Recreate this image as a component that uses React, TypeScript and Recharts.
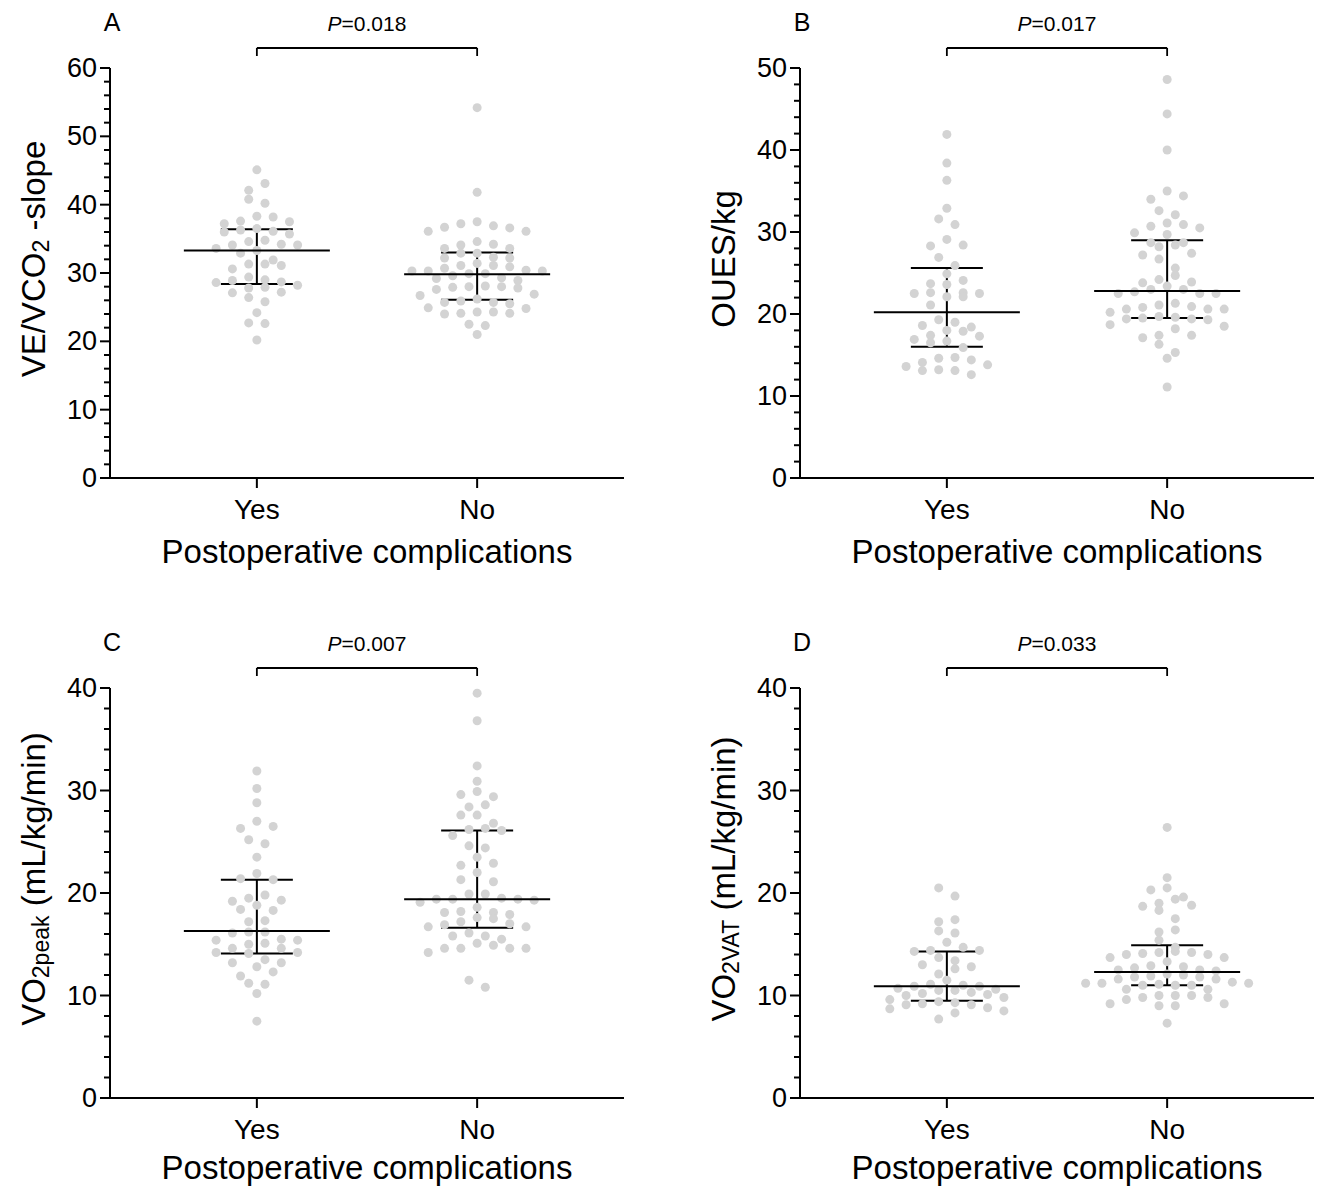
import React from "react";
import {
  ScatterChart,
  Scatter,
  XAxis,
  YAxis,
  ReferenceLine,
  ErrorBar,
  Label,
} from "recharts";

// groups on the x axis
const groups = ["Yes", "No"];

// A: VE/VCO2 slope
const aYes = [45.1, 43.1, 42.1, 40.8, 40.2, 38.3, 38.2, 37.5, 37.2, 37.6, 36.1, 36.5, 36.0, 35.7, 36.3, 34.6, 34.1, 34.1, 34.2, 34.8, 33.6, 33.3, 32.9, 31.9, 31.3, 31.1, 31.3, 30.6, 29.4, 28.9, 28.6, 29.0, 28.7, 28.2, 27.9, 27.8, 27.1, 27.2, 26.4, 25.8, 24.2, 22.6, 22.7, 20.2];
const aNo = [54.2, 41.8, 37.5, 36.7, 36.9, 36.1, 36.6, 36.1, 37.2, 34.6, 34.2, 34.1, 33.6, 33.6, 32.9, 32.3, 32.2, 32.2, 32.9, 31.4, 31.1, 30.9, 30.4, 31.1, 30.3, 30.3, 30.3, 30.7, 29.3, 29.9, 29.6, 29.9, 28.9, 29.2, 28.0, 27.9, 28.0, 27.6, 27.8, 28.1, 26.9, 26.2, 26.7, 25.9, 25.7, 25.5, 25.7, 24.8, 24.9, 24.1, 24.3, 24.1, 24.3, 24.0, 22.5, 22.3, 21.0];
const aMedian = [33.3, 29.8];
const aQ1 = [28.4, 26.1];
const aQ3 = [36.4, 33.0];
const aTicks = [0, 10, 20, 30, 40, 50, 60];

// B: OUES/kg
const bYes = [41.9, 38.4, 36.3, 32.9, 31.6, 30.9, 29.1, 28.4, 28.3, 26.9, 25.9, 24.9, 24.1, 23.7, 23.6, 22.6, 22.6, 22.5, 22.1, 22.5, 22.1, 21.1, 19.3, 19.0, 18.4, 18.6, 17.9, 18.0, 17.4, 17.3, 16.7, 16.9, 16.5, 15.9, 14.7, 14.4, 14.6, 14.1, 13.6, 13.8, 13.2, 13.1, 13.1, 12.6];
const bNo = [48.6, 44.4, 40.0, 35.0, 34.0, 34.4, 32.6, 32.1, 30.9, 31.1, 30.7, 30.5, 29.7, 29.9, 28.7, 28.7, 28.2, 28.4, 27.4, 27.2, 26.7, 25.6, 24.7, 24.2, 23.8, 23.4, 23.9, 22.5, 22.7, 22.5, 23.0, 22.5, 23.0, 21.3, 21.1, 20.9, 20.6, 20.8, 20.6, 20.6, 20.2, 19.7, 19.3, 19.6, 19.5, 19.4, 19.4, 18.7, 18.5, 18.2, 17.4, 17.1, 17.4, 16.3, 15.3, 14.6, 11.1];
const bMedian = [20.2, 22.8];
const bQ1 = [16.0, 19.5];
const bQ3 = [25.6, 29.0];
const bTicks = [0, 10, 20, 30, 40, 50];

// C: VO2peak
const cYes = [31.9, 30.2, 28.8, 27.0, 26.5, 26.3, 25.2, 24.8, 23.5, 21.9, 21.4, 21.3, 19.3, 19.5, 19.2, 19.8, 18.4, 18.3, 18.8, 17.3, 17.2, 16.2, 16.1, 16.2, 15.1, 15.0, 15.4, 15.4, 15.5, 14.6, 14.6, 14.1, 14.2, 14.2, 13.2, 13.2, 13.5, 12.8, 12.3, 11.9, 11.2, 11.1, 10.2, 7.5];
const cNo = [39.5, 36.8, 32.4, 30.9, 29.4, 29.6, 29.9, 28.6, 28.4, 27.6, 27.6, 26.8, 26.3, 26.1, 26.2, 25.6, 24.6, 24.4, 23.5, 22.9, 22.7, 22.0, 21.1, 21.3, 19.9, 19.9, 19.4, 19.3, 19.5, 19.4, 19.4, 19.1, 18.1, 18.1, 17.9, 18.6, 18.2, 17.2, 17.6, 17.0, 17.5, 16.9, 16.7, 16.7, 16.1, 15.5, 15.8, 15.8, 15.1, 14.6, 14.9, 14.6, 14.6, 14.6, 14.2, 11.5, 10.8];
const cMedian = [16.3, 19.4];
const cQ1 = [14.1, 16.6];
const cQ3 = [21.3, 26.1];
const cTicks = [0, 10, 20, 30, 40];

// D: VO2VAT
const dYes = [20.5, 19.7, 17.4, 17.2, 16.3, 16.1, 15.2, 14.3, 14.4, 14.7, 14.4, 13.4, 13.7, 12.8, 12.6, 13.0, 12.1, 11.5, 11.1, 11.0, 10.9, 10.9, 10.6, 10.5, 10.5, 10.7, 10.2, 10.3, 10.1, 10.0, 9.8, 9.6, 9.4, 9.1, 9.2, 9.3, 9.1, 8.7, 8.8, 8.5, 8.3, 7.7];
const dNo = [26.4, 21.5, 20.3, 20.5, 19.6, 19.4, 19.0, 18.8, 18.7, 18.3, 17.5, 16.4, 16.2, 15.4, 14.7, 14.2, 14.3, 14.2, 14.1, 14.0, 14.0, 13.7, 13.7, 13.3, 12.9, 12.7, 12.8, 12.5, 12.5, 12.4, 12.1, 11.8, 11.8, 12.0, 11.9, 11.6, 11.6, 11.2, 11.3, 11.1, 11.0, 11.0, 11.2, 11.2, 11.0, 10.6, 10.6, 9.8, 9.8, 10.0, 10.0, 10.0, 9.6, 9.2, 9.0, 9.2, 9.0, 7.3];
const dMedian = [10.9, 12.3];
const dQ1 = [9.5, 11.0];
const dQ3 = [14.3, 14.9];
const dTicks = [0, 10, 20, 30, 40];

const FONT = "'Liberation Sans', Arial, Helvetica, sans-serif";
const DOT = "#d3d3d3";
const AXIS_W = 110;
const PLOT_W = 514;
const PLOT_H = 410;
const TOP = 68;
const X_DOMAIN: [number, number] = [1 / 3, 8 / 3];
const XPPU = PLOT_W / (X_DOMAIN[1] - X_DOMAIN[0]);

// Prism-like scatter: values close together share a row and are spread sideways
const STEP = 16.3;
const ROW = 10;
function swarm(vals: number[], center: number, yppu: number) {
  const sorted = [...vals].sort((a, b) => b - a);
  const rows: number[][] = [];
  for (const v of sorted) {
    const r = rows[rows.length - 1];
    if (r && (r[0] - v) * yppu < ROW) r.push(v);
    else rows.push([v]);
  }
  const out: { x: number; y: number }[] = [];
  rows.forEach((r, ri) => {
    const n = r.length;
    const slots = Array.from({ length: n }, (_, i) => i - (n - 1) / 2).sort(
      (a, b) => Math.abs(a) - Math.abs(b) || (ri % 2 ? b - a : a - b)
    );
    r.forEach((v, i) => out.push({ x: center + (slots[i] * STEP) / XPPU, y: v }));
  });
  return out;
}

const YTick = (props: any) => {
  const { x, y, payload } = props;
  const major = payload.value % 10 === 0;
  return (
    <g>
      <line x1={x - (major ? 10 : 6)} x2={x} y1={y} y2={y} stroke="#000" strokeWidth={2} />
      {major && (
        <text x={x - 13} y={y} textAnchor="end" dominantBaseline="central" fontSize={27} fontFamily={FONT} fill="#000">
          {payload.value}
        </text>
      )}
    </g>
  );
};

const XTick = (props: any) => {
  const { x, y, payload } = props;
  return (
    <g>
      <line x1={x} x2={x} y1={y} y2={y + 10} stroke="#000" strokeWidth={2} />
      <text x={x} y={y + 31} textAnchor="middle" dominantBaseline="central" fontSize={28} fontFamily={FONT} fill="#000">
        {groups[payload.value - 1]}
      </text>
    </g>
  );
};

const Dot = (s: any) => <circle cx={s.cx} cy={s.cy} r={4.5} fill={DOT} />;
const MedianLine = (s: any) => (
  <line x1={s.cx - 73} x2={s.cx + 73} y1={s.cy} y2={s.cy} stroke="#000" strokeWidth={2} />
);

interface PanelProps {
  left: number;
  top: number;
  height: number;
  titleGap: number;
  yes: number[];
  no: number[];
  median: number[];
  q1: number[];
  q3: number[];
  majors: number[];
  letter: string;
  p: string;
  title: React.ReactNode;
}

function Panel({ left, top, height, titleGap, yes, no, median, q1, q3, majors, letter, p, title }: PanelProps) {
  const yMax = majors[majors.length - 1];
  const yppu = PLOT_H / yMax;
  const ticks: number[] = [];
  for (let t = 0; t <= yMax; t += 2) ticks.push(t);
  const yesPts = swarm(yes, 1, yppu);
  const noPts = swarm(no, 2, yppu);
  const summary = [1, 2].map((g, i) => ({
    x: g,
    y: median[i],
    err: [median[i] - q1[i], q3[i] - median[i]],
  }));
  const brY = yMax + 20 / yppu;
  const brTick = yMax + 12 / yppu;
  const xAxisH = height - TOP - PLOT_H;

  const yTitle = (props: any) => {
    const vb = props.viewBox;
    const cx = vb.x + 33;
    const cy = vb.y + vb.height / 2 - 14;
    return (
      <g fontFamily={FONT} fill="#000">
        <text transform={`translate(${cx},${cy}) rotate(-90)`} textAnchor="middle" dominantBaseline="central" fontSize={33}>
          {title}
        </text>
        <text x={vb.x + vb.width + 2} y={vb.y - 46} textAnchor="middle" dominantBaseline="central" fontSize={25}>
          {letter}
        </text>
      </g>
    );
  };

  const xTitle = (props: any) => {
    const vb = props.viewBox;
    return (
      <text x={vb.x + vb.width / 2} y={vb.y + titleGap} textAnchor="middle" dominantBaseline="central" fontSize={33} fontFamily={FONT} fill="#000">
        Postoperative complications
      </text>
    );
  };

  const pLabel = (props: any) => {
    const vb = props.viewBox;
    return (
      <text x={vb.x + vb.width / 2} y={vb.y - 25} textAnchor="middle" dominantBaseline="central" fontSize={21} fontFamily={FONT} fill="#000">
        <tspan fontStyle="italic">P</tspan>={p}
      </text>
    );
  };

  return (
    <div style={{ position: "absolute", left, top }}>
      <ScatterChart width={AXIS_W + PLOT_W + 4} height={height} margin={{ top: TOP, right: 4, bottom: 0, left: 0 }}>
        <XAxis
          type="number"
          dataKey="x"
          domain={X_DOMAIN}
          ticks={[1, 2]}
          interval={0}
          allowDataOverflow
          height={xAxisH}
          tickSize={0}
          tickMargin={0}
          tick={<XTick />}
          axisLine={{ stroke: "#000", strokeWidth: 2 }}
        >
          <Label content={xTitle} />
        </XAxis>
        <YAxis
          type="number"
          dataKey="y"
          domain={[0, yMax]}
          ticks={ticks}
          interval={0}
          allowDataOverflow
          width={AXIS_W}
          tickSize={0}
          tickMargin={0}
          tick={<YTick />}
          axisLine={{ stroke: "#000", strokeWidth: 2 }}
        >
          <Label content={yTitle} />
        </YAxis>
        <Scatter data={yesPts} isAnimationActive={false} shape={Dot} />
        <Scatter data={noPts} isAnimationActive={false} shape={Dot} />
        <Scatter data={summary} isAnimationActive={false} shape={MedianLine}>
          <ErrorBar dataKey="err" direction="y" width={36} stroke="#000" strokeWidth={2} isAnimationActive={false} />
        </Scatter>
        <ReferenceLine ifOverflow="visible" stroke="#000" strokeWidth={1.8} segment={[{ x: 1, y: brY }, { x: 2, y: brY }]} label={pLabel} />
        <ReferenceLine ifOverflow="visible" stroke="#000" strokeWidth={1.8} segment={[{ x: 1, y: brY }, { x: 1, y: brTick }]} />
        <ReferenceLine ifOverflow="visible" stroke="#000" strokeWidth={1.8} segment={[{ x: 2, y: brY }, { x: 2, y: brTick }]} />
      </ScatterChart>
    </div>
  );
}

const sub = (s: string) => (
  <tspan fontSize={23} dy={8}>
    {s}
  </tspan>
);

export default function App() {
  return (
    <div style={{ position: "absolute", left: 0, top: 0, width: 1318, height: 1188, overflow: "hidden", background: "#fff" }}>
      <Panel
        left={0}
        top={0}
        height={594}
        titleGap={73}
        yes={aYes}
        no={aNo}
        median={aMedian}
        q1={aQ1}
        q3={aQ3}
        majors={aTicks}
        letter="A"
        p="0.018"
        title={
          <>
            VE/VCO{sub("2")}
            <tspan dy={-8}> -slope</tspan>
          </>
        }
      />
      <Panel
        left={690}
        top={0}
        height={594}
        titleGap={73}
        yes={bYes}
        no={bNo}
        median={bMedian}
        q1={bQ1}
        q3={bQ3}
        majors={bTicks}
        letter="B"
        p="0.017"
        title={<>OUES/kg</>}
      />
      <Panel
        left={0}
        top={620}
        height={568}
        titleGap={69}
        yes={cYes}
        no={cNo}
        median={cMedian}
        q1={cQ1}
        q3={cQ3}
        majors={cTicks}
        letter="C"
        p="0.007"
        title={
          <>
            VO{sub("2peak")}
            <tspan dy={-8}> (mL/kg/min)</tspan>
          </>
        }
      />
      <Panel
        left={690}
        top={620}
        height={568}
        titleGap={69}
        yes={dYes}
        no={dNo}
        median={dMedian}
        q1={dQ1}
        q3={dQ3}
        majors={dTicks}
        letter="D"
        p="0.033"
        title={
          <>
            VO{sub("2VAT")}
            <tspan dy={-8}> (mL/kg/min)</tspan>
          </>
        }
      />
    </div>
  );
}
